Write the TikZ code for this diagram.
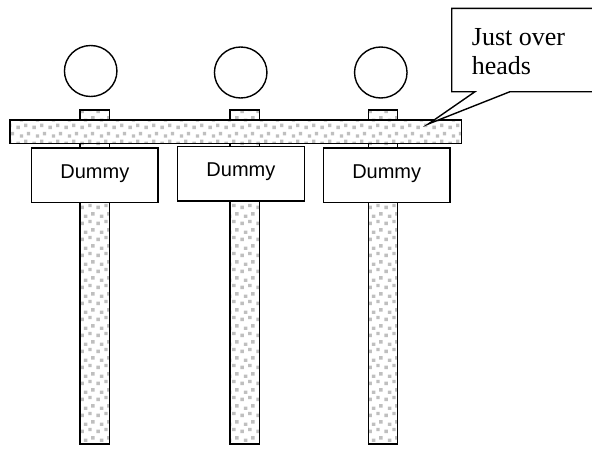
\documentclass[tikz,border=0pt]{standalone}
\usepackage{fontspec}
\setmainfont{Liberation Serif}
\newfontfamily\signfont{Liberation Sans}
\usetikzlibrary{patterns,shapes.geometric}
\pgfdeclarepatternformonly{grain}{\pgfpointorigin}{\pgfpoint{16pt}{16pt}}{\pgfpoint{16pt}{16pt}}{%
  \pgfpathrectangle{\pgfpoint{0.5pt}{1pt}}{\pgfpoint{3.6pt}{3.6pt}}%
  \pgfpathrectangle{\pgfpoint{8.5pt}{3pt}}{\pgfpoint{3.6pt}{3.6pt}}%
  \pgfpathrectangle{\pgfpoint{4pt}{8.5pt}}{\pgfpoint{3.6pt}{3.6pt}}%
  \pgfpathrectangle{\pgfpoint{11.5pt}{11pt}}{\pgfpoint{3.6pt}{3.6pt}}%
  \pgfusepath{fill}%
}
\begin{document}
\begin{tikzpicture}[x=1pt,y=-1pt,
  outline/.style={draw=black, line width=1.4pt},
  texture/.style={outline, preaction={fill=white}, pattern=grain, pattern color=black!25},
  pole/.style={texture, rectangle, minimum width=29.3pt, minimum height=334pt, inner sep=0pt},
  barstyle/.style={texture, rectangle, minimum width=451.7pt, minimum height=23.3pt, inner sep=0pt},
  signbox/.style={outline, fill=white, rectangle, minimum width=126.6pt, minimum height=54.5pt, inner sep=0pt},
  head/.style={outline, ellipse, minimum width=52.5pt, minimum height=51pt, inner sep=0pt},
  signtext/.style={font=\signfont\fontsize{20}{24}\selectfont, anchor=base, inner sep=0pt, yshift=-2.9pt},
  notetext/.style={font=\fontsize{26}{29}\selectfont, anchor=base west, align=left, inner sep=0pt}
]
\useasboundingbox (0,0) rectangle (592,450);
\clip (0,0) rectangle (592,450);

% poles (behind everything)
\node[pole] (p1) at (94.7,277) {};
\node[pole] (p2) at (244.8,277) {};
\node[pole] (p3) at (383,277) {};

% horizontal bar
\node[barstyle] (bar) at (235.85,131.65) {};

% sign boxes
\node[signbox] (b1) at (94.85,175.2) {};
\node[signbox] (b2) at (240.9,173.85) {};
\node[signbox] (b3) at (386.7,175.3) {};
\node[signtext] (t1) at (b1.center) {Dummy};
\node[signtext] (t2) at (b2.center) {Dummy};
\node[signtext] (t3) at (b3.center) {Dummy};

% heads
\node[head] (h1) at (90.7,71) {};
\node[head] (h2) at (240.7,72.5) {};
\node[head] (h3) at (380.8,72.5) {};

% callout
\coordinate (tip) at (428.3,124);
\draw[outline, fill=white, line join=miter] (451.7,8.3) -- (600,8.3) -- (600,91.7) -- (510,91.7)
  -- (tip) -- (475,91.7) -- (451.7,91.7) -- cycle;
\node[notetext] (note) at (471.7,74) {Just over\\heads};
\end{tikzpicture}
\end{document}
